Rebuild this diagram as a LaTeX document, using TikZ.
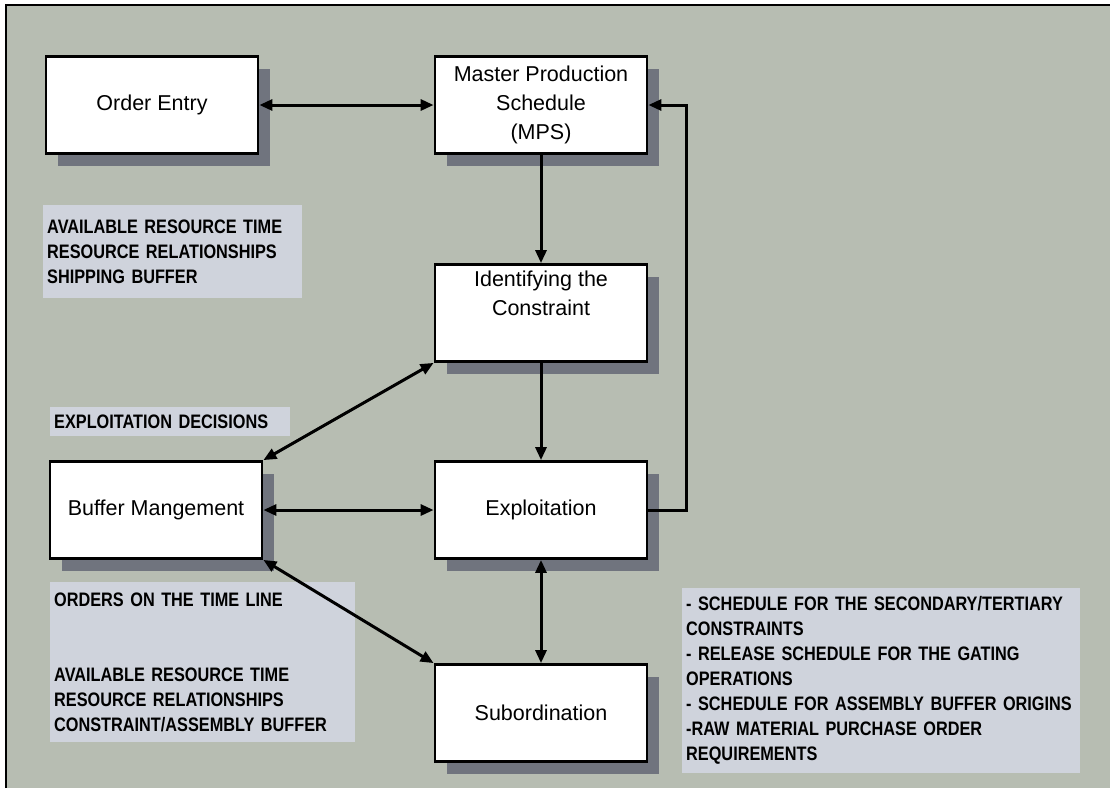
\documentclass[tikz,border=0pt]{standalone}
\usepackage{fontspec}
\setmainfont{Liberation Sans}
\newfontfamily\notefont{Liberation Sans Bold}[FakeStretch=0.835]
\newcommand\notetype{\notefont\fontsize{19.5}{25}\selectfont\hyphenpenalty=10000\relax\exhyphenpenalty=10000\relax}
\usetikzlibrary{arrows.meta,shadows}
\definecolor{paper}{RGB}{183,189,178}
\definecolor{notefill}{RGB}{207,211,220}
\definecolor{shade}{RGB}{112,116,126}

\begin{document}
\begin{tikzpicture}[x=1pt,y=-1pt,
  stagebox/.style={draw=black, line width=2.8pt, fill=white,
    minimum width=212pt, minimum height=97pt, inner sep=0pt, align=center,
    font=\fontsize{21.5}{29}\selectfont,
    drop shadow={shadow xshift=12pt, shadow yshift=-12pt, fill=shade, opacity=1}},
  boxtext/.style={inner sep=0pt, align=center, font=\fontsize{21.5}{29}\selectfont},
  note/.style={fill=notefill, anchor=north west, inner xsep=4pt, inner ysep=0pt,
    align=left, font=\notetype},
  tip/.tip={Triangle[length=13pt,width=11pt]},
  link/.style={line width=3pt, -tip},
  twoway/.style={line width=3pt, tip-tip}
]
\useasboundingbox (0,0) rectangle (1110,788);
\fill[white] (0,0) rectangle (1110,788);
\fill[paper] (6,5) rectangle (1110,788);
\draw[line width=2.6pt] (6,788) -- (6,5) -- (1110,5);

% information carried between the stages
\node[note, text width=251pt, minimum height=93pt] (n1) at (43,205)
  {AVAILABLE RESOURCE TIME\\RESOURCE RELATIONSHIPS\\SHIPPING BUFFER};
\node[note, text width=232pt, minimum height=29pt] (n2) at (50,407)
  {EXPLOITATION DECISIONS};
\node[note, text width=297pt, minimum height=160pt] (n3) at (50,582)
  {ORDERS ON THE TIME LINE\\[50pt]AVAILABLE RESOURCE TIME\\RESOURCE RELATIONSHIPS\\CONSTRAINT/ASSEMBLY BUFFER};
\node[note, text width=390pt, minimum height=185pt] (n4) at (682,588)
  {- SCHEDULE FOR THE SECONDARY/TERTIARY\\CONSTRAINTS\\- RELEASE SCHEDULE FOR THE GATING\\OPERATIONS\\- SCHEDULE FOR ASSEMBLY BUFFER ORIGINS\\-RAW MATERIAL PURCHASE ORDER\\REQUIREMENTS};

% stages
\node[stagebox] (oe) at (152,105) {Order Entry};
\node[stagebox] (mps) at (541,105) {Master Production\\Schedule\\(MPS)};
\node[stagebox, label={[boxtext, anchor=north, yshift=-8pt]north:{Identifying the\\Constraint}}] (id) at (541,313) {};
\node[stagebox] (bm) at (156,510) {Buffer Mangement};
\node[stagebox] (ex) at (541,510) {Exploitation};
\node[stagebox] (su) at (541,713) {Subordination};

\coordinate (rt) at (686,300);

% flows
\draw[twoway] (oe.east) -- (mps.west);
\draw[link] (mps.south) -- (id.north);
\draw[link] (id.south) -- (ex.north);
\draw[twoway] (bm.east) -- (ex.west);
\draw[twoway] (id.south west) -- (bm.north east);
\draw[twoway] (bm.south east) -- (su.north west);
\draw[twoway] (ex.south) -- (su.north);
\draw[link] (ex.east) -- (ex.east -| rt) |- (mps.east);
\end{tikzpicture}
\end{document}
